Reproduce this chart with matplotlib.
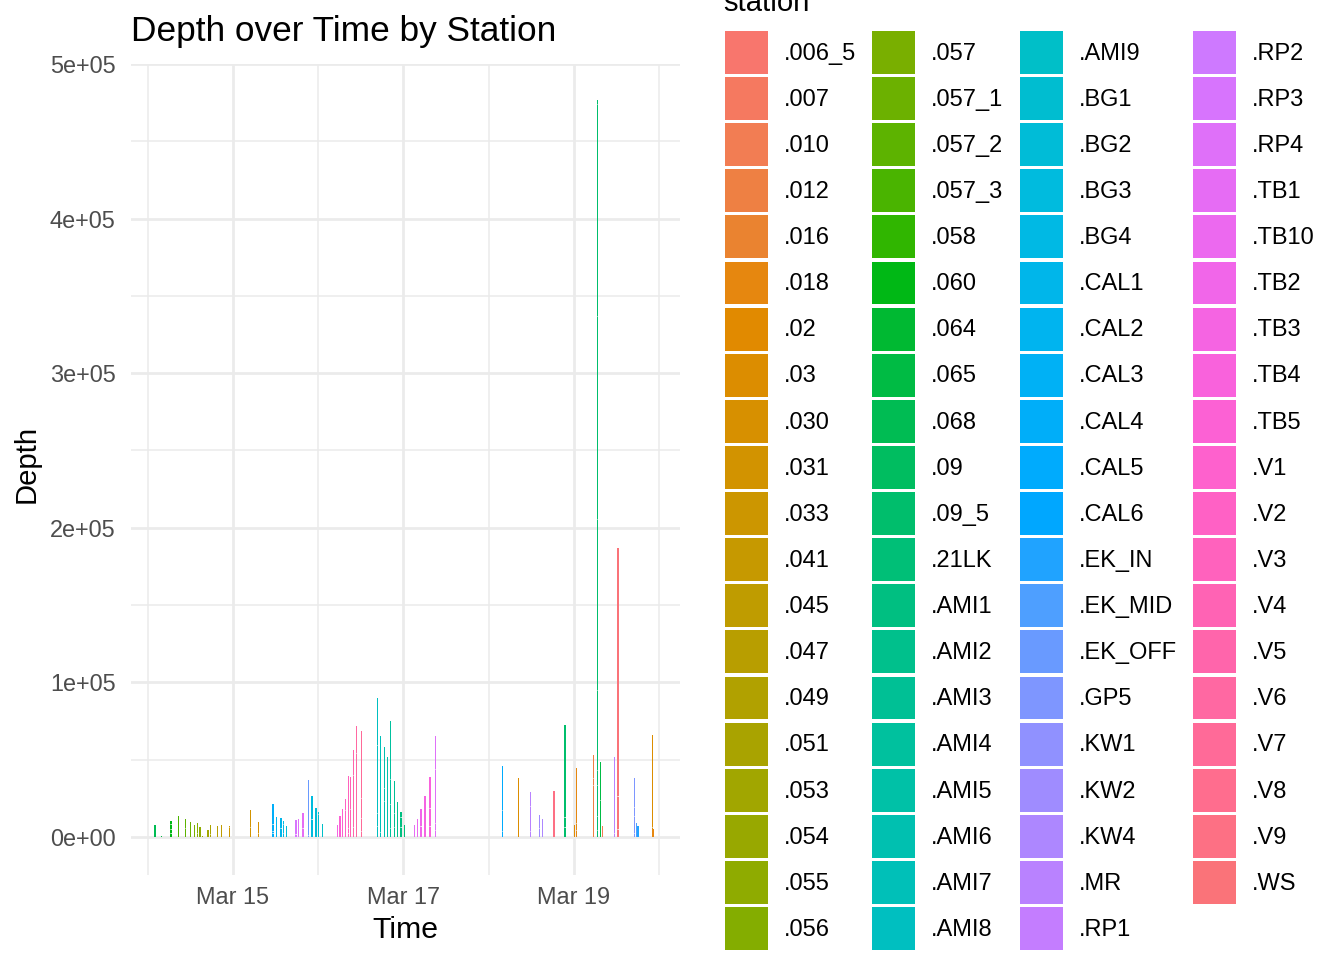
import numpy as np
import pandas as pd
import matplotlib
matplotlib.use('Agg')
import matplotlib.pyplot as plt
import matplotlib.dates as mdates
from matplotlib.patches import Patch

plt.rcParams['font.family'] = ['Liberation Sans', 'DejaVu Sans']

stations = ['.006_5', '.007', '.010', '.012', '.016', '.018', '.02', '.03', '.030', '.031',
            '.033', '.041', '.045', '.047', '.049', '.051', '.053', '.054', '.055', '.056',
            '.057', '.057_1', '.057_2', '.057_3', '.058', '.060', '.064', '.065', '.068', '.09',
            '.09_5', '.21LK', '.AMI1', '.AMI2', '.AMI3', '.AMI4', '.AMI5', '.AMI6', '.AMI7', '.AMI8',
            '.AMI9', '.BG1', '.BG2', '.BG3', '.BG4', '.CAL1', '.CAL2', '.CAL3', '.CAL4', '.CAL5',
            '.CAL6', '.EK_IN', '.EK_MID', '.EK_OFF', '.GP5', '.KW1', '.KW2', '.KW4', '.MR', '.RP1',
            '.RP2', '.RP3', '.RP4', '.TB1', '.TB10', '.TB2', '.TB3', '.TB4', '.TB5', '.V1',
            '.V2', '.V3', '.V4', '.V5', '.V6', '.V7', '.V8', '.V9', '.WS']

# hours after midnight on Mar 15
bar_hours = [-21.96, -20.18, -17.45, -15.40, -13.43, -12.02, -10.89, -10.05, -9.37, -8.64,
             -7.04, -6.39, -4.42, -3.29, -1.04, 4.87, 7.12, 11.26, 12.19, 13.51,
             14.16, 15.00, 17.73, 18.49, 19.71, 21.20, 22.24, 23.36, 24.01, 25.14,
             29.47, 30.12, 30.88, 31.61, 32.46, 33.02, 33.86, 34.71, 36.12, 40.62,
             41.46, 42.59, 43.44, 44.28, 45.41, 46.25, 47.29, 48.22, 51.04, 51.88,
             52.92, 54.05, 55.46, 56.95, 75.81, 80.31, 83.69, 86.22, 87.07, 90.36,
             93.46, 96.08, 96.64, 101.42, 102.55, 103.39, 103.96, 107.34, 108.38, 112.97,
             113.53, 113.92, 118.03, 118.31]
bar_depths = [7760, 860, 10350, 13580, 11640, 9700, 7760, 9050, 6470, 650,
              4530, 7760, 7100, 7760, 7100, 17460, 9700, 21340, 12940, 12300,
              10350, 7100, 11000, 11640, 15500, 36870, 26500, 18760, 16170, 8400,
              7760, 13580, 18100, 24580, 39450, 38800, 56270, 71800, 68560, 89900,
              65300, 58200, 51700, 75000, 36200, 22640, 16170, 7760, 7760, 11640,
              18100, 26500, 38800, 65300, 45900, 38200, 29100, 14200, 11640, 29750,
              72400, 7760, 44600, 53000, 476700, 48500, 7100, 51700, 186900, 38200,
              9050, 7100, 66000, 5200]
bar_stations = ['.068', '.065', '.060', '.057_3', '.057_2', '.057_1', '.057', '.056', '.055', '.054',
                '.053', '.051', '.047', '.045', '.033', '.031', '.030', '.CAL4', '.CAL2', '.CAL1',
                '.BG4', '.BG2', '.RP3', '.RP4', '.TB1', '.EK_OFF', '.BG3', '.BG2', '.BG1', '.AMI9',
                '.TB3', '.TB5', '.V1', '.V2', '.V3', '.V4', '.V5', '.V6', '.V7', '.AMI8',
                '.AMI7', '.AMI6', '.AMI5', '.AMI4', '.AMI3', '.AMI2', '.AMI1', '.21LK', '.TB1', '.TB10',
                '.TB2', '.TB3', '.TB4', '.RP4', '.CAL5', '.03', '.MR', '.KW2', '.KW4', '.V9',
                '.09_5', '.02', '.018', '.012', '.09_5', '.065', '.010', '.MR', '.WS', '.GP5',
                '.EK_MID', '.EK_IN', '.03', '.018']
# depths where one stacked record ends and the next begins
bar_breaks = [[], [], [8400, 5170, 2590], [], [5820], [], [], [2370], [], [],
              [], [1940], [], [], [6470], [6470], [2590], [8400, 3880, 2590], [], [5820],
              [8400, 2590], [], [1940], [], [5820], [1290], [11640], [], [14900], [],
              [], [], [], [17460], [5820, 2590], [18100], [40100, 6470], [54300], [25200, 12300, 3880], [59500, 15500, 7100],
              [3230], [31700, 23300], [], [37500, 21300, 5820], [15500, 6470], [], [12900, 6470], [], [], [],
              [7100], [], [18800, 7100], [44000, 9050, 4500], [17460, 3880], [], [20050, 3880], [5820], [], [],
              [12940, 6470], [], [9050, 4530], [38160, 33630], [474000, 337000, 206000, 95000, 43300, 33630, 13580, 4530], [23930], [], [2590], [26500, 5170], [19400, 13580, 2590],
              [], [], [6470], []]
# these times have two neighbouring records, so the bar is twice as wide
double_hours = [-17.45, -9.37, -7.04, 11.26, 13.51, 17.73, 19.71, 22.24, 23.36, 30.12,
                47.29, 52.92, 54.05, 55.46, 90.36, 93.46, 108.38, 113.92, 118.31]

y_ticks = [0, 100000, 200000, 300000, 400000, 500000]
y_labels = ['0e+00', '1e+05', '2e+05', '3e+05', '4e+05', '5e+05']
y_minor = [50000, 150000, 250000, 350000, 450000]
x_ticks = ['2024-03-15', '2024-03-17', '2024-03-19']
x_minor = ['2024-03-14', '2024-03-16', '2024-03-18', '2024-03-20']


def hue_pal(n):
    # same as ggplot's default: hcl with c=100, l=65
    h = np.radians(15 + 360*np.arange(n)/n)
    L = 65.0
    u = 100*np.cos(h)
    v = 100*np.sin(h)
    Y = ((L+16)/116)**3
    up = u/(13*L) + 0.1978398
    vp = v/(13*L) + 0.4683363
    X = 9*Y*up/(4*vp)
    Z = -X/3 - 5*Y + 3*Y/vp
    rgb = np.array([3.240479*X - 1.537150*Y - 0.498535*Z,
                    -0.969256*X + 1.875992*Y + 0.041556*Z,
                    0.055648*X - 0.204043*Y + 1.057311*Z]).T
    rgb = np.clip(rgb, 0, 1)
    return np.where(rgb <= 0.0031308, 12.92*rgb, 1.055*rgb**(1/2.4) - 0.055)


colors = dict(zip(stations, hue_pal(len(stations))))
start = mdates.date2num(pd.Timestamp('2024-03-15'))

W, H = 1344, 960
fig = plt.figure(figsize=(W/100, H/100), dpi=100)
ax = fig.add_axes([131/W, 1-875/H, (680-131)/W, (875-64)/H])

ax.set_axisbelow(True)
ax.grid(which='major', color='#EBEBEB', lw=2.0)
ax.grid(which='minor', color='#EBEBEB', lw=1.1)

for hour, depth, station, breaks in zip(bar_hours, bar_depths, bar_stations, bar_breaks):
    offsets = [-0.15, 0.15] if hour in double_hours else [0]
    for off in offsets:
        t = start + (hour+off)/24
        ax.bar(t, depth, width=0.36/24, color=colors[station], lw=0)
        if breaks:
            ax.hlines(breaks, t-0.19/24, t+0.19/24, color='white', lw=0.7, zorder=3)

ax.set_xlim(start-1.196, start+5.243)
ax.set_ylim(-24580, 500000)
ax.set_yticks(y_ticks)
ax.set_yticklabels(y_labels)
ax.set_yticks(y_minor, minor=True)
ax.set_xticks(mdates.date2num(pd.to_datetime(x_ticks)))
ax.set_xticks(mdates.date2num(pd.to_datetime(x_minor)), minor=True)
ax.xaxis.set_major_formatter(mdates.DateFormatter('%b %d'))
ax.tick_params(which='both', length=0)
ax.tick_params(axis='both', labelsize=16.9, labelcolor='#4D4D4D')
ax.tick_params(axis='x', pad=8)
ax.tick_params(axis='y', pad=11)
for side in ax.spines.values():
    side.set_visible(False)

ax.set_xlabel('Time', fontsize=21.8, labelpad=5)
ax.set_ylabel('Depth', fontsize=21.1, labelpad=7, y=0.507)
ax.set_title('Depth over Time by Station', fontsize=25.4, loc='left', pad=16.5)

handles = [Patch(color=colors[s], lw=0) for s in stations]
fig.legend(handles, stations, ncol=4, loc='upper left', bbox_to_anchor=(725/W, 1-31/H),
           fontsize=17.0, frameon=False, borderpad=0, borderaxespad=0,
           handlelength=1.82, handleheight=2.42, labelspacing=0.135,
           handletextpad=0.68, columnspacing=0.68)
fig.text(723/W, 1-11/H, 'station', fontsize=21.1, va='baseline')

fig.savefig('out.png', dpi=100)
